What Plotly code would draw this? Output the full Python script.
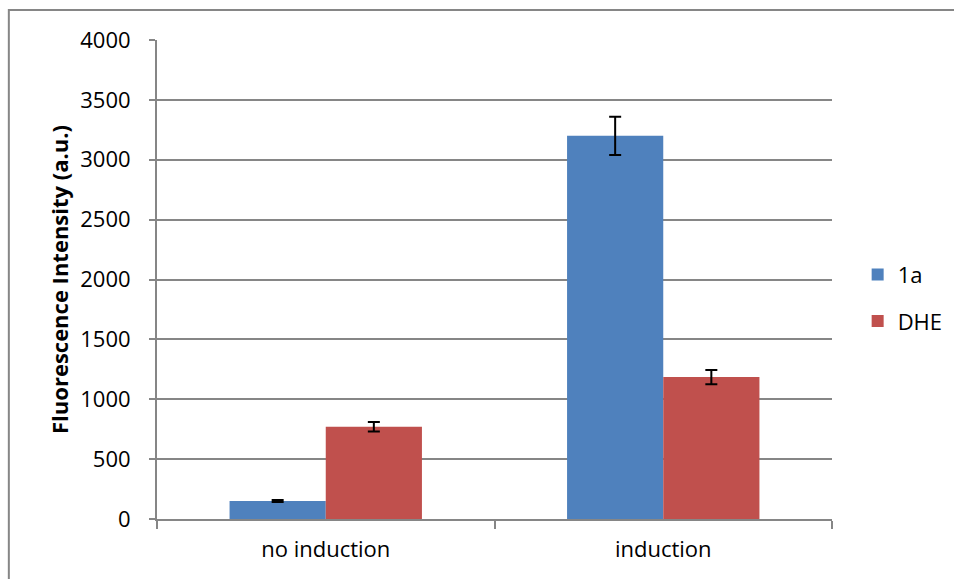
import plotly.graph_objects as go

categories = ["no induction", "induction"]
series_names = ["1a", "DHE"]
values_1a = [150, 3200]
errors_1a = [8, 160]
values_dhe = [770, 1185]
errors_dhe = [40, 60]
y_ticks = [0, 500, 1000, 1500, 2000, 2500, 3000, 3500, 4000]

colors = ["#4F81BD", "#C0504D"]
grey = "#868686"
font_family = "Open Sans, sans-serif"

fig = go.Figure()
for name, vals, errs, col in zip(series_names, [values_1a, values_dhe],
                                 [errors_1a, errors_dhe], colors):
    fig.add_trace(go.Bar(
        x=categories, y=vals, name=name, legendgroup=name,
        marker=dict(color=col, line=dict(width=0)),
        error_y=dict(type="data", array=errs, visible=True,
                     color="black", thickness=2, width=6),
    ))

fig.update_layout(
    width=954, height=579,
    margin=dict(l=157, r=122, t=40, b=60, autoexpand=False),
    paper_bgcolor="white", plot_bgcolor="white",
    font=dict(family=font_family, size=22, color="black"),
    barmode="group", bargap=0.43, bargroupgap=0,
    showlegend=True,
    legend=dict(x=1.038, y=0.461, xanchor="left", yanchor="middle",
                font=dict(size=22), tracegroupgap=15,
                itemwidth=30, bgcolor="rgba(0,0,0,0)"),
    xaxis=dict(
        showline=True, linecolor=grey, linewidth=2,
        ticks="outside", tickson="boundaries", ticklen=8,
        tickcolor=grey, tickwidth=2, showgrid=False,
        ticklabelstandoff=10,
    ),
    yaxis=dict(
        range=[0, 4000], tickvals=y_ticks,
        showline=True, linecolor=grey, linewidth=2,
        ticks="outside", ticklen=6, tickcolor=grey, tickwidth=2,
        showgrid=True, gridcolor=grey, gridwidth=2,
        zeroline=False, ticklabelstandoff=14,
        title=dict(text="<b>Fluorescence Intensity (a.u.)</b>",
                   font=dict(size=22), standoff=6),
    ),
    shapes=[dict(type="rect", xref="paper", yref="paper",
                 x0=-0.2195, x1=1.4, y0=-0.3, y1=1.0626,
                 line=dict(color=grey, width=2), layer="below")],
)

fig.write_html("out.html")
